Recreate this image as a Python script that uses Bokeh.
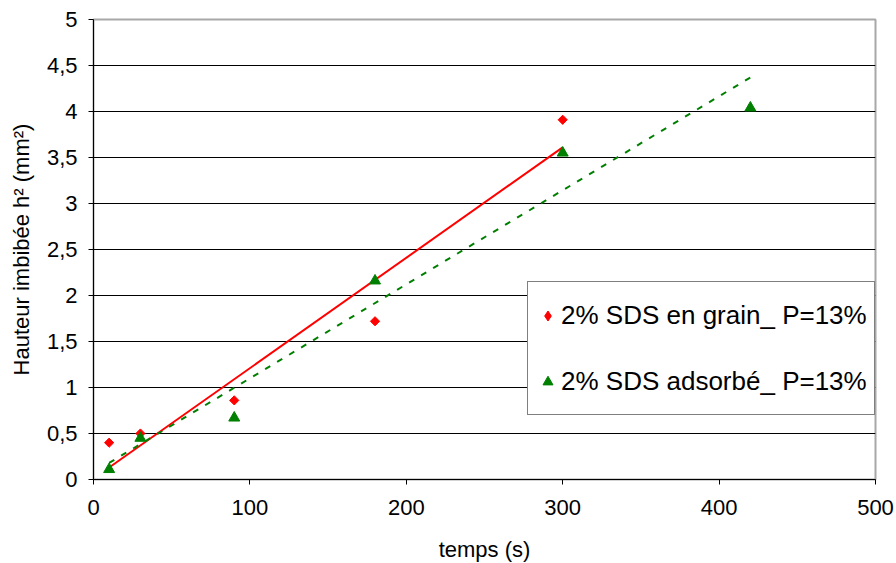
from bokeh.plotting import figure
from bokeh.models import Range1d, FixedTicker, Legend, LegendItem
from bokeh.embed import file_html
from bokeh.resources import INLINE
import math

# ---- data ----
x_grain = [10, 30, 90, 180, 300]
y_grain = [0.40, 0.50, 0.86, 1.72, 3.91]
x_ads = [10, 30, 90, 180, 300, 420]
y_ads = [0.11, 0.45, 0.67, 2.16, 3.55, 4.04]

trend_grain_x = [10, 300]
trend_grain_y = [0.13, 3.61]
trend_ads_x = [10, 420]
trend_ads_y = [0.18, 4.37]

x_ticks = [0, 100, 200, 300, 400, 500]
y_ticks = [0, 0.5, 1, 1.5, 2, 2.5, 3, 3.5, 4, 4.5, 5]
y_tick_labels = ["0", "0,5", "1", "1,5", "2", "2,5", "3", "3,5", "4", "4,5", "5"]
grid_ticks = [0.5, 1, 1.5, 2, 2.5, 3, 3.5, 4, 4.5]

label_grain = "2% SDS en grain_ P=13%"
label_ads = "2% SDS adsorbé_ P=13%"
x_title = "temps (s)"
y_title = "Hauteur imbibée h² (mm²)"

FONT = "Liberation Sans"
FS_TICK = "22px"
FS_TITLE = "22px"
FS_LEG = "26px"

p = figure(
    frame_width=782, frame_height=460,
    min_border_left=93, min_border_right=21, min_border_top=19, min_border_bottom=84,
    x_range=Range1d(0, 500), y_range=Range1d(0, 5),
    output_backend="svg", toolbar_location=None,
    background_fill_color="white", border_fill_color="white",
)
p.outline_line_color = "#a8a8a8"
p.outline_line_width = 2

# grid
p.xgrid.visible = False
p.ygrid.ticker = FixedTicker(ticks=grid_ticks)
p.ygrid.grid_line_color = "black"
p.ygrid.grid_line_width = 1

# axes
for ax in (p.xaxis[0], p.yaxis[0]):
    ax.axis_line_color = "black"
    ax.axis_line_width = 1
    ax.major_tick_line_color = "black"
    ax.major_tick_out = 5
    ax.major_tick_in = 0
    ax.minor_tick_line_color = None
    ax.major_label_text_font = FONT
    ax.major_label_text_font_size = FS_TICK
    ax.major_label_text_color = "black"
    ax.axis_label_text_font = FONT
    ax.axis_label_text_font_size = FS_TITLE
    ax.axis_label_text_font_style = "normal"
    ax.axis_label_text_color = "black"

p.xaxis.ticker = FixedTicker(ticks=x_ticks)
p.xaxis.major_label_standoff = 15
p.xaxis.axis_label = x_title
p.xaxis.axis_label_standoff = 19

p.yaxis.ticker = FixedTicker(ticks=y_ticks)
p.yaxis.major_label_overrides = dict(zip(y_ticks, y_tick_labels))
p.yaxis.major_label_standoff = 11
p.yaxis.axis_label = y_title
p.yaxis.axis_label_standoff = 10

# trend lines
p.line(trend_grain_x, trend_grain_y, line_color="#ff0000", line_width=2)
p.line(trend_ads_x, trend_ads_y, line_color="#008000", line_width=2, line_dash="6 8")

# points
r1 = p.scatter(x_grain, y_grain, marker="square", angle=math.pi / 4, size=6.5,
               fill_color="#ff0000", line_color="#ff0000")
r2 = p.scatter(x_ads, y_ads, marker="triangle", size=11,
               fill_color="#008000", line_color="#008000")
# legend glyph for the diamond symbol (drawn at size 0 in the plot)
r1_leg = p.scatter(x_grain, y_grain, marker="diamond", size=0,
                   fill_color="#ff0000", line_color="#ff0000")

legend = Legend(
    items=[LegendItem(label=label_grain, renderers=[r1_leg]),
           LegendItem(label=label_ads, renderers=[r2])],
    location=(434, 64),
)
legend.border_line_color = "black"
legend.border_line_width = 1
legend.background_fill_color = "white"
legend.background_fill_alpha = 1
legend.label_text_font = FONT
legend.label_text_font_size = FS_LEG
legend.label_text_color = "black"
legend.padding = 7
legend.glyph_width = 25
legend.glyph_height = 25
legend.label_standoff = 1
legend.label_height = 52
legend.spacing = 14
legend.margin = 0
p.add_layout(legend, "center")

open("out.html", "w").write(file_html(p, INLINE))
